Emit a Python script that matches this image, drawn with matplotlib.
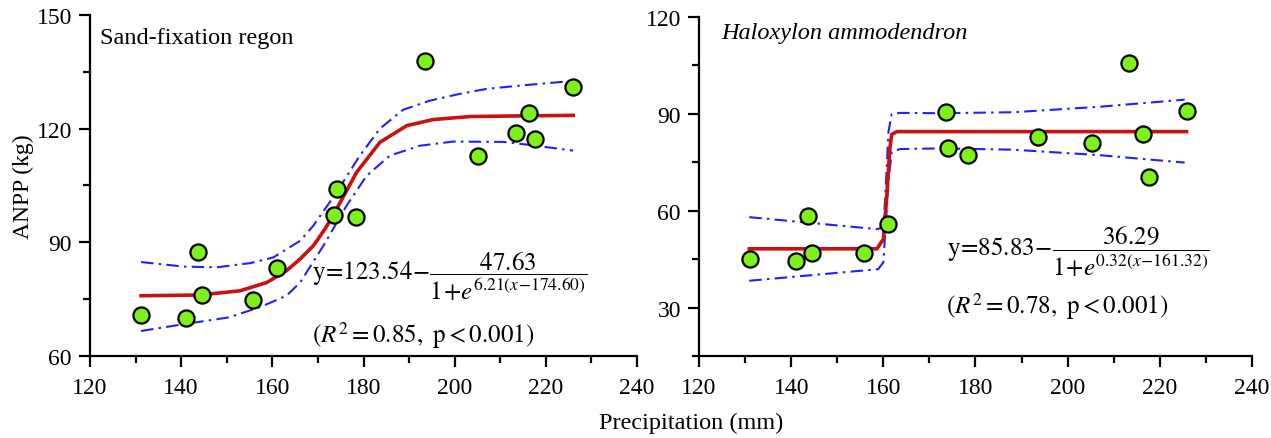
import matplotlib.pyplot as plt
from matplotlib.ticker import MultipleLocator

plt.rcParams['font.family'] = ['Liberation Serif', 'DejaVu Serif']
plt.rcParams['mathtext.fontset'] = 'stix'

# Precipitation (mm) of the 15 sites, shared by both panels
precip = [131.1, 141.1, 143.7, 144.5, 155.8, 161.0, 173.6, 174.1,
          178.4, 193.5, 205.2, 213.4, 216.3, 217.6, 225.9]

# ANPP (kg) of the sand-fixation region
anpp_sand = [70.9, 69.9, 87.5, 76.1, 74.7, 83.3, 97.2, 104.0,
             96.7, 137.8, 112.7, 118.8, 124.0, 117.4, 131.1]

# ANPP (kg) of Haloxylon ammodendron
anpp_halo = [45.1, 44.5, 58.5, 46.8, 47.0, 55.9, 90.6, 79.5,
             77.2, 82.9, 81.0, 105.6, 83.9, 70.5, 90.9]

# Fitted curve and confidence band
sand_fit_x = [131.2, 144.1, 152.9, 158.8, 163.1, 166.1, 169.0, 171.6,
              174.1, 178.5, 183.6, 189.5, 195.3, 203.4, 216.5, 226.0]
sand_fit_y = [75.9, 76.1, 77.2, 79.4, 82.5, 85.6, 89.1, 93.6,
              98.8, 108.5, 116.4, 120.8, 122.4, 123.2, 123.4, 123.5]
sand_up_x = [131.2, 140.5, 147.8, 155.1, 160.2, 166.1, 169.0, 174.1,
             179.2, 183.6, 188.7, 194.6, 201.2, 207.0, 216.5, 226.0]
sand_up_y = [84.8, 83.6, 83.4, 84.5, 86.0, 90.4, 94.4, 103.2,
             112.9, 120.0, 125.0, 127.4, 129.2, 130.5, 131.6, 132.6]
sand_lo_x = [131.2, 140.6, 150.5, 157.3, 163.1, 166.1, 171.2, 176.3,
             180.7, 185.8, 192.4, 199.7, 210.7, 216.5, 226.0]
sand_lo_y = [66.6, 68.4, 70.2, 72.9, 75.9, 79.4, 89.1, 99.7,
             107.6, 112.9, 115.5, 116.6, 116.5, 115.7, 114.2]

# Fitted curve and confidence band
halo_fit_x = [130.9, 158.6, 160.0, 160.7, 161.4, 161.8, 162.9, 225.8]
halo_fit_y = [48.2, 48.2, 51.2, 63.6, 79.1, 83.6, 84.5, 84.5]
halo_up_x = [130.9, 158.6, 160.0, 160.4, 161.1, 161.8, 163.6, 172.3,
             188.2, 207.0, 225.4]
halo_up_y = [58.0, 54.3, 54.8, 63.6, 84.3, 89.9, 90.3, 90.2,
             90.5, 92.2, 94.4]
halo_lo_x = [130.9, 158.9, 160.0, 160.5, 161.1, 161.8, 163.6, 172.3,
             188.2, 207.0, 225.4]
halo_lo_y = [38.3, 41.9, 44.0, 55.4, 68.8, 78.1, 79.1, 79.3,
             78.9, 77.2, 74.9]

RED = '#cc1010'
BLUE = '#2020ff'
GREEN = '#7cf21a'
DASHDOT = (0, (6, 2.5, 1.2, 2.5))


def style_axes(ax, ylim, ystep):
    """Black left/bottom spines, outward ticks, Times-like labels."""
    for side in ['top', 'right']:
        ax.spines[side].set_visible(False)
    for side in ['left', 'bottom']:
        ax.spines[side].set_linewidth(1.6)
    ax.set_xlim(120, 240)
    ax.set_ylim(*ylim)
    ax.xaxis.set_major_locator(MultipleLocator(20))
    ax.xaxis.set_minor_locator(MultipleLocator(10))
    ax.yaxis.set_major_locator(MultipleLocator(ystep))
    ax.yaxis.set_minor_locator(MultipleLocator(ystep / 2))
    ax.tick_params(which='major', direction='out', length=8, width=1.6,
                   labelsize=17, colors='black')
    ax.tick_params(which='minor', direction='out', length=5, width=1.6)
    ax.tick_params(axis='x', which='major', pad=7)
    ax.tick_params(axis='y', which='major', pad=5)


def draw_panel(ax, anpp, fit, up, lo):
    ax.plot(*up, color=BLUE, lw=1.5, ls=DASHDOT, zorder=2)
    ax.plot(*lo, color=BLUE, lw=1.5, ls=DASHDOT, zorder=2)
    ax.plot(*fit, color=RED, lw=2.6, zorder=3, solid_joinstyle='round')
    ax.scatter(precip, anpp, s=135, c=GREEN, edgecolors='black',
               linewidths=1.6, zorder=4)


fig = plt.figure(figsize=(12.71, 4.39), dpi=100)
ax1 = fig.add_axes([0.0708, 0.1868, 0.4304, 0.7768])
ax2 = fig.add_axes([0.5500, 0.1868, 0.4350, 0.7722])

# Left panel
draw_panel(ax1, anpp_sand, (sand_fit_x, sand_fit_y),
           (sand_up_x, sand_up_y), (sand_lo_x, sand_lo_y))
style_axes(ax1, (60, 150), 30)
ax1.set_ylabel('ANPP (kg)', fontsize=17, labelpad=2)
ax1.text(0.018, 0.935, 'Sand-fixation regon', transform=ax1.transAxes,
         fontsize=17.5, va='center', ha='left')
ax1.text(168.6, 81.2,
         r'$\mathrm{y}\!=\!123.54\!-\!\dfrac{47.63}'
         r'{1\!+\!e^{6.21(x\!-\!174.60)}}$',
         fontsize=18, va='center', ha='left')
ax1.text(168.6, 65.6, r'$(R^2 = 0.85,\ \mathrm{p} < 0.001)$',
         fontsize=18, va='center', ha='left')

# Right panel
draw_panel(ax2, anpp_halo, (halo_fit_x, halo_fit_y),
           (halo_up_x, halo_up_y), (halo_lo_x, halo_lo_y))
style_axes(ax2, (15, 120), 30)
ax2.yaxis.set_minor_locator(MultipleLocator(15))
ax2.text(0.04, 0.955, 'Haloxylon ammodendron', transform=ax2.transAxes,
         fontsize=17.5, va='center', ha='left', style='italic')
ax2.text(173.8, 47.6,
         r'$\mathrm{y}\!=\!85.83\!-\!\dfrac{36.29}'
         r'{1\!+\!e^{0.32(x\!-\!161.32)}}$',
         fontsize=18, va='center', ha='left')
ax2.text(173.6, 30.6, r'$(R^2 = 0.78,\ \mathrm{p} < 0.001)$',
         fontsize=18, va='center', ha='left')

fig.text(0.5437, 0.036, 'Precipitation (mm)', fontsize=17.5, ha='center',
         va='center')

fig.savefig('out.png', dpi=100)
